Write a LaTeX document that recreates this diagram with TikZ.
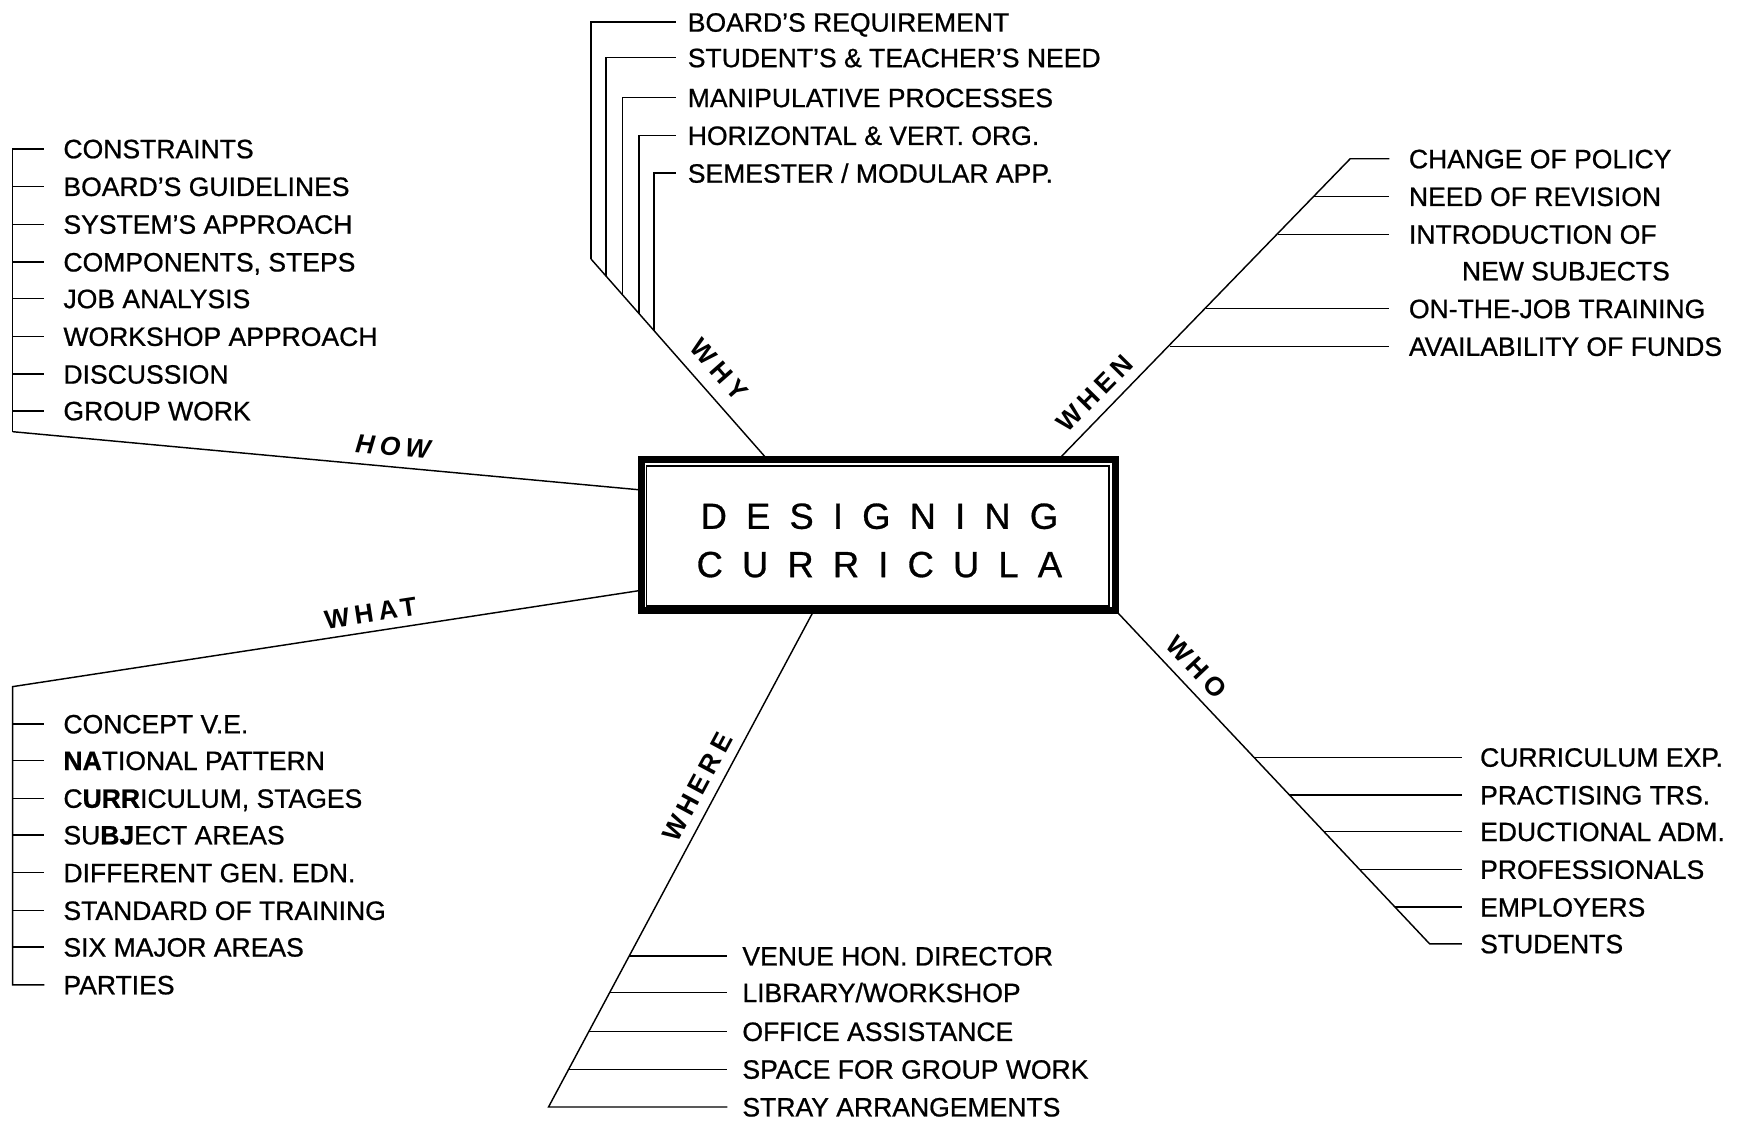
\documentclass[tikz,border=0pt]{standalone}
\usepackage{fontspec}
\setmainfont{Liberation Sans}[FakeBold=0.8]
\newfontfamily\lblfont{Liberation Sans}[LetterSpace=19.3]
\newcommand\tgap{\hspace{8.65pt}}
\begin{document}
\begin{tikzpicture}[x=0.5pt,y=-0.5pt, line width=0.65pt,
  item/.style={anchor=west, inner sep=0pt, text height=8.5pt, text depth=0pt, font=\fontsize{11.95}{14}\selectfont},
  lbl/.style={inner sep=0pt, font=\lblfont\fontsize{11.9}{13}\selectfont\bfseries},
  lblit/.style={inner sep=0pt, font=\lblfont\fontsize{11.9}{13}\selectfont\bfseries\itshape},
  tickhow/.style={shorten >=8.3pt},
  tickwhy/.style={shorten >=4.8pt},
  tickwhen/.style={shorten >=8.45pt},
  tickwho/.style={shorten >=7.9pt},
  tickwhere/.style={shorten >=6.5pt}]
\useasboundingbox (0,0) rectangle (1568,1010);

% central box
\node[draw, line width=3pt, minimum width=213.25pt, minimum height=67.85pt, inner sep=0pt] (box) at (791.25,481.85) {};
\draw[line width=0.75pt] ([shift={(3.7pt,-4.2pt)}]box.north west) rectangle ([shift={(-4.35pt,3.6pt)}]box.south east);
\node[font=\fontsize{16.35}{21.75}\selectfont, align=center, inner sep=0pt] (title) at (792,486.75)
  {D\tgap E\tgap S\tgap I\tgap G\tgap N\tgap I\tgap N\tgap G\\C\tgap U\tgap R\tgap R\tgap I\tgap C\tgap U\tgap L\tgap A};

% HOW
\node[item] (how1) at (56.5,134) {CONSTRAINTS};
\node[item] (how2) at (56.5,168) {BOARD'S GUIDELINES};
\node[item] (how3) at (56.5,202) {SYSTEM'S APPROACH};
\node[item] (how4) at (56.5,236) {COMPONENTS, STEPS};
\node[item] (how5) at (56.5,269) {JOB ANALYSIS};
\node[item] (how6) at (56.5,303) {WORKSHOP APPROACH};
\node[item] (how7) at (56.5,337) {DISCUSSION};
\node[item] (how8) at (56.5,370) {GROUP WORK};
\coordinate (howend) at (11.4,388.8);
\draw[tickhow] (howend) |- (how1.west);
\foreach \i in {2,...,8} \draw[tickhow] (howend |- how\i.west) -- (how\i.west);
\draw (howend) -- ([yshift=20.4pt]box.west);
\node[lblit, rotate=-5.3] (howlbl) at (354,402.2) {HOW};

% WHAT
\node[item] (wt1) at (56.5,652) {CONCEPT V.E.};
\node[item] (wt2) at (56.5,685) {\textbf{NA}TIONAL PATTERN};
\node[item] (wt3) at (56.5,719) {C\textbf{URR}ICULUM, STAGES};
\node[item] (wt4) at (56.5,752) {SU\textbf{BJ}ECT AREAS};
\node[item] (wt5) at (56.5,786) {DIFFERENT GEN. EDN.};
\node[item] (wt6) at (56.5,820) {STANDARD OF TRAINING};
\node[item] (wt7) at (56.5,853) {SIX MAJOR AREAS};
\node[item] (wt8) at (56.5,887) {PARTIES};
\coordinate (whatend) at (11.4,618.4);
\draw[tickhow] ([yshift=-25.1pt]box.west) -- (whatend) |- (wt8.west);
\foreach \i in {1,...,7} \draw[tickhow] (whatend |- wt\i.west) -- (wt\i.west);
\node[lbl, rotate=8.7] (whatlbl) at (333.8,552.2) {WHAT};

% WHY
\node[item] (why1) at (618.8,20) {BOARD'S REQUIREMENT};
\node[item] (why2) at (618.8,52) {STUDENT'S \& TEACHER'S NEED};
\node[item] (why3) at (618.8,88) {MANIPULATIVE PROCESSES};
\node[item] (why4) at (618.8,122) {HORIZONTAL \& VERT. ORG.};
\node[item] (why5) at (618.8,156) {SEMESTER / MODULAR APP.};
\coordinate (wd1) at (532.3,233.3);
\coordinate (wd2) at (545.8,248.6);
\coordinate (wd3) at (560.5,265.3);
\coordinate (wd4) at (575.5,282.4);
\coordinate (wd5) at (589,297.7);
\draw ([xshift=-51.3pt]box.north) -- (wd1);
\foreach \i in {1,...,5} \draw[tickwhy] (wd\i) |- (why\i.west);
\node[lbl, rotate=-48.6] (whylbl) at (647.3,333.1) {WHY};

% WHEN
\node[item] (when1) at (1268.3,143) {CHANGE OF POLICY};
\node[item] (when2) at (1268.3,177) {NEED OF REVISION};
\node[item] (when3) at (1268.3,211) {INTRODUCTION OF};
\node[item] (when3b) at (1316,244) {NEW SUBJECTS};
\node[item] (when4) at (1268.3,278) {ON-THE-JOB TRAINING};
\node[item] (when5) at (1268.3,312) {AVAILABILITY OF FUNDS};
\coordinate (whentop) at (1216,143);
\coordinate (wn2) at (1183.4,177);
\coordinate (wn3) at (1150.8,211);
\coordinate (wn4) at (1086.5,278);
\coordinate (wn5) at (1053.9,312);
\draw[tickwhen] ([xshift=82.4pt]box.north) -- (whentop) -- (when1.west);
\foreach \i in {2,...,5} \draw[tickwhen] (wn\i) -- (when\i.west);
\node[lbl, rotate=45.4] (whenlbl) at (986.3,354.2) {WHEN};

% WHO
\node[item] (who1) at (1332.4,682) {CURRICULUM EXP.};
\node[item] (who2) at (1332.4,716) {PRACTISING TRS.};
\node[item] (who3) at (1332.4,749) {EDUCTIONAL ADM.};
\node[item] (who4) at (1332.4,783) {PROFESSIONALS};
\node[item] (who5) at (1332.4,817) {EMPLOYERS};
\node[item] (who6) at (1332.4,850) {STUDENTS};
\coordinate (wo1) at (1129.2,682);
\coordinate (wo2) at (1161.2,716);
\coordinate (wo3) at (1192.3,749);
\coordinate (wo4) at (1224.4,783);
\coordinate (wo5) at (1256.4,817);
\coordinate (wobot) at (1287.5,850);
\draw[tickwho] (box.south east) -- (wobot) -- (who6.west);
\foreach \i in {1,...,5} \draw[tickwho] (wo\i) -- (who\i.west);
\node[lbl, rotate=-46.6] (wholbl) at (1077.6,600.8) {WHO};

% WHERE
\node[item] (wh1) at (668,861) {VENUE HON. DIRECTOR};
\node[item] (wh2) at (668,894) {LIBRARY/WORKSHOP};
\node[item] (wh3) at (668,929) {OFFICE ASSISTANCE};
\node[item] (wh4) at (668,963) {SPACE FOR GROUP WORK};
\node[item] (wh5) at (668,997) {STRAY ARRANGEMENTS};
\coordinate (we1) at (566.2,861);
\coordinate (we2) at (548.7,894);
\coordinate (we3) at (530.1,929);
\coordinate (we4) at (512,963);
\coordinate (webot) at (494,997);
\draw[tickwhere] ([xshift=-29.9pt]box.south) -- (webot) -- (wh5.west);
\foreach \i in {1,...,4} \draw[tickwhere] (we\i) -- (wh\i.west);
\node[lbl, rotate=61.8] (wherelbl) at (628.1,709) {WHERE};
\end{tikzpicture}
\end{document}
